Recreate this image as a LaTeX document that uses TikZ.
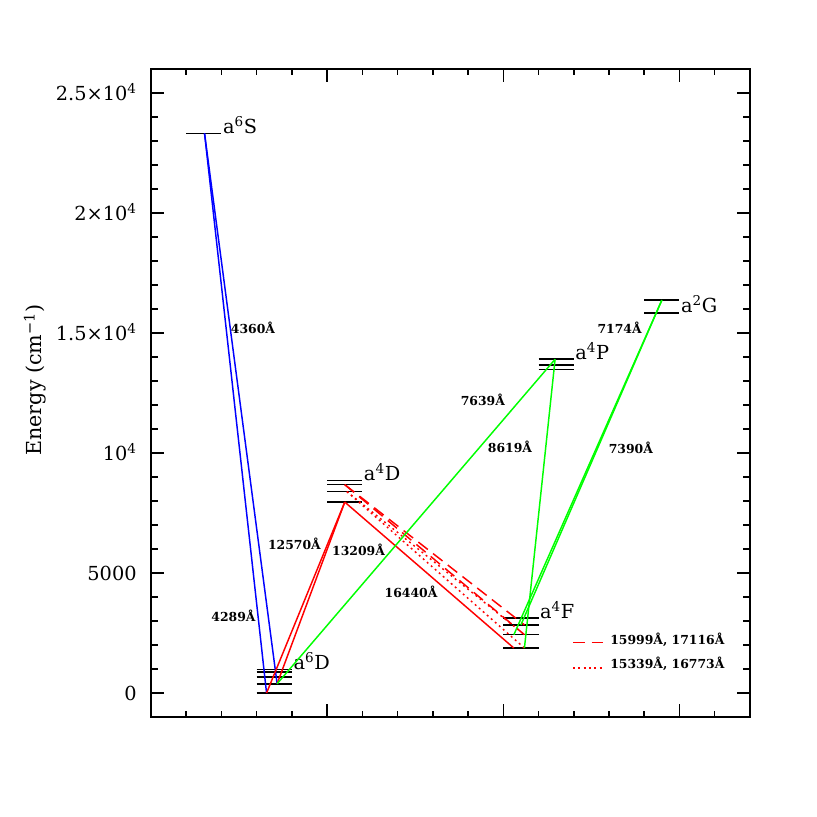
\documentclass[tikz,border=0pt]{standalone}
\usepackage{fontspec}
\setmainfont{DejaVu Serif}
\begin{document}
\begin{tikzpicture}[
  lvl/.style={line width=1.2pt, black},
  tr/.style={line width=1.1pt},
  lbl/.style={font=\bfseries\fontsize{9.3}{9.3}\selectfont, anchor=base, yshift=-3.4pt, inner sep=0pt},
  lvlname/.style={font=\fontsize{14.5}{14.5}\selectfont, anchor=base west, inner sep=0pt, xshift=1pt},
  ticklbl/.style={font=\fontsize{14.5}{14.5}\selectfont, anchor=base east, inner sep=0pt, yshift=-5.3pt},
  dashline/.style={dash pattern=on 9pt off 5pt},
  dotline/.style={dash pattern=on 1.4pt off 2.6pt},
  tick/.style={line width=1.1pt}
]
\useasboundingbox (0,0) rectangle (612.75pt,612.75pt);
\begin{scope}[shift={(113.25pt,93pt)}, x=26.4225pt, y=18pt]
 % frame
 \draw[line width=1.5pt] (0,-1) rectangle (17,26);
 \foreach \i in {1,...,16} {
   \pgfmathsetmacro\tl{ifthenelse(mod(\i,5)==0,0.54,0.27)}
   \draw[tick] (\i,-1) -- ++(0,\tl);
   \draw[tick] (\i,26) -- ++(0,-\tl);
 }
 \foreach \j in {0,...,25} {
   \pgfmathsetmacro\tl{ifthenelse(mod(\j,5)==0,0.37,0.185)}
   \draw[tick] (0,\j) -- ++(\tl,0);
   \draw[tick] (17,\j) -- ++(-\tl,0);
 }
 % tick labels
 \node[ticklbl] (t0) at (-0.4,0) {0};
 \node[ticklbl] (t5) at (-0.4,5) {5000};
 \node[ticklbl] (t10) at (-0.4,10) {10\textsuperscript{4}};
 \node[ticklbl] (t15) at (-0.4,15) {1.5×10\textsuperscript{4}};
 \node[ticklbl] (t20) at (-0.4,20) {2×10\textsuperscript{4}};
 \node[ticklbl] (t25) at (-0.4,25) {2.5×10\textsuperscript{4}};
 \node[font=\fontsize{15.5}{15.5}\selectfont, rotate=90] (ylab) at (-3.29,13.04) {Energy (cm\textsuperscript{−1})};

 % levels
 \draw[lvl] (1,23.3176) -- (2,23.3176);
 \foreach \e in {0,0.3848,0.6677,0.8626,0.9771} {\draw[lvl] (3,\e) -- (4,\e);}
 \foreach \e in {7.9553,8.3919,8.6805,8.8468} {\draw[lvl] (5,\e) -- (6,\e);}
 \foreach \e in {1.8726,2.4301,2.8379,3.1175} {\draw[lvl] (10,\e) -- (11,\e);}
 \foreach \e in {13.4744,13.6732,13.9049} {\draw[lvl] (11,\e) -- (12,\e);}
 \foreach \e in {15.8447,16.3694} {\draw[lvl] (14,\e) -- (15,\e);}

 % level names
 \node[lvlname] (nS) at (2,23.3176) {a\textsuperscript{6}S};
 \node[lvlname] (nD6) at (4,0.9771) {a\textsuperscript{6}D};
 \node[lvlname] (nD4) at (6,8.8468) {a\textsuperscript{4}D};
 \node[lvlname] (nF) at (11,3.1175) {a\textsuperscript{4}F};
 \node[lvlname] (nP) at (12,13.9049) {a\textsuperscript{4}P};
 \node[lvlname] (nG) at (15,15.8447) {a\textsuperscript{2}G};

 % transition end points
 \coordinate (S) at (1.52,23.3176);
 \coordinate (d0) at (3.28,0);
 \coordinate (d1) at (3.58,0.3848);
 \coordinate (D72) at (5.5,7.9553);
 \coordinate (D52) at (5.56,8.3919);
 \coordinate (D32) at (5.5,8.6805);
 \coordinate (P) at (11.47,13.9049);
 \coordinate (G) at (14.5,16.3694);
 \coordinate (F92a) at (10.3,1.8726);
 \coordinate (F92b) at (10.6,1.8726);
 \coordinate (F72a) at (10.3,2.4301);
 \coordinate (F72b) at (10.6,2.4301);
 \coordinate (F52a) at (10.5,2.8379);
 \coordinate (F52b) at (10.6,2.8379);

 % blue
 \draw[tr,blue] (S) -- (d0);
 \draw[tr,blue] (S) -- (d1);
 % red solid
 \draw[tr,red] (D72) -- (d0);
 \draw[tr,red] (D72) -- (d1);
 \draw[tr,red] (D72) -- (F92a);
 % red dashed / dotted
 \draw[tr,red,dashline] (D32) -- (F72b);
 \draw[tr,red,dashline] (D32) -- (F52b);
 \draw[tr,red,dotline] (D52) -- (F92b);
 \draw[tr,red,dotline] (D52) -- (F72b);
 % green
 \draw[tr,green] (d1) -- (P);
 \draw[tr,green] (P) -- (F92b);
 \draw[tr,green] (G) -- (F72a);
 \draw[tr,green] (G) -- (F52a);

 % wavelength labels
 \node[lbl] (w4360) at (2.895,15.167) {4360Å};
 \node[lbl] (w4289) at (2.34,3.167) {4289Å};
 \node[lbl] (w12570) at (4.07,6.167) {12570Å};
 \node[lbl] (w13209) at (5.89,5.917) {13209Å};
 \node[lbl] (w16440) at (7.38,4.167) {16440Å};
 \node[lbl] (w7639) at (9.42,12.167) {7639Å};
 \node[lbl] (w8619) at (10.19,10.208) {8619Å};
 \node[lbl] (w7174) at (13.30,15.167) {7174Å};
 \node[lbl] (w7390) at (13.62,10.167) {7390Å};

 % legend
 \coordinate (la1) at (11.98,2.1);
 \coordinate (la2) at (12.83,2.1);
 \coordinate (lb1) at (11.98,1.04);
 \coordinate (lb2) at (12.85,1.04);
 \draw[tr,red,dashline] (la1) -- (la2);
 \draw[tr,red,dotline] (lb1) -- (lb2);
 \node[font=\bfseries\fontsize{9.3}{9.3}\selectfont, anchor=base west, inner sep=0pt] (leg1) at (13.03,2.04) {15999Å, 17116Å};
 \node[font=\bfseries\fontsize{9.3}{9.3}\selectfont, anchor=base west, inner sep=0pt] (leg2) at (13.03,1.0) {15339Å, 16773Å};
\end{scope}
\end{tikzpicture}
\end{document}
